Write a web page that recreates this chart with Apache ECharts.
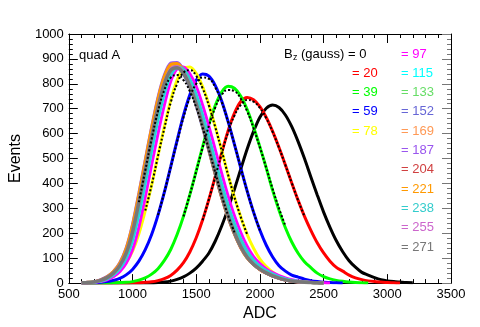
<!DOCTYPE html>
<html>
<head>
<meta charset="utf-8">
<script src="https://cdn.jsdelivr.net/npm/echarts@6/dist/echarts.min.js"></script>
<style>
  html, body { margin: 0; padding: 0; background: #fff; }
  #chart { width: 480px; height: 327px; }
</style>
</head>
<body>
<div id="chart"></div>
<script>
// bin centres (ADC), 600 .. 3200 in steps of 50
const adc = []
for (let x = 600; x <= 3200; x += 50) adc.push(x)

// B_z field values (gauss) and their colours
const bzLabels = ['0', '20', '39', '59', '78', '97', '115', '133', '152', '169', '187', '204', '221', '238', '255', '271']
const bzColors = ['#000000', '#ff0000', '#00ff00', '#0000ff', '#ffff00', '#ff00ff', '#00ffff', '#66dd66',
  '#6666d6', '#ff9955', '#9955ee', '#d04040', '#ff9900', '#33cccc', '#cc66cc', '#777777']

// events per bin (index 0 = 600 ADC)
const bz0 = [0, 0, 0, 0, 0, 0, 0, 0, 0, 0, 0, 0, 2, 4, 8, 15, 25, 40, 60, 88, 121, 169, 229, 299, 377, 458, 538, 609, 666, 702, 715, 705, 675, 628, 568, 500, 426, 354, 285, 224, 170, 126, 90, 64, 43, 32, 22, 14, 9, 6, 4, 2, 1]
const bz20 = [0, 0, 0, 0, 0, 0, 0, 0, 1, 1, 3, 5, 10, 18, 31, 52, 82, 125, 182, 253, 337, 429, 523, 611, 682, 729, 745, 736, 708, 665, 609, 544, 474, 402, 332, 268, 212, 162, 121, 88, 63, 48, 32, 21, 14, 9, 6, 4, 2, 1, 0]
const bz39 = [0, 0, 0, 0, 0, 1, 2, 3, 6, 12, 21, 36, 58, 91, 135, 195, 268, 355, 450, 547, 638, 714, 767, 790, 782, 750, 697, 627, 547, 462, 372, 292, 222, 165, 120, 86, 62, 40, 26, 17, 11, 7, 4, 2, 1, 0]
const bz59 = [0, 1, 1, 3, 6, 11, 19, 33, 55, 88, 134, 195, 273, 365, 468, 573, 673, 756, 814, 839, 831, 793, 731, 649, 557, 462, 369, 285, 212, 152, 105, 70, 48, 32, 24, 16, 10, 6, 3, 2, 1, 0]
const bz78 = [1, 2, 4, 8, 16, 30, 51, 82, 128, 198, 291, 393, 512, 627, 734, 815, 863, 868, 842, 789, 716, 627, 533, 435, 345, 265, 195, 140, 96, 66, 44, 28, 18, 11, 7, 4, 2, 1, 0]
const bz97 = [0, 1, 3, 6, 13, 26, 46, 80, 135, 225, 345, 475, 600, 715, 810, 860, 868, 840, 790, 715, 628, 535, 440, 350, 270, 203, 148, 106, 78, 57, 42, 30, 21, 14, 9, 5, 3, 2, 1, 0]
const bz115 = [1, 2, 4, 8, 17, 33, 58, 100, 170, 275, 400, 530, 655, 760, 835, 865, 858, 818, 757, 675, 585, 490, 397, 312, 238, 176, 127, 92, 67, 49, 36, 25, 17, 11, 7, 4, 2, 1, 0]
const bz133 = [1, 2, 5, 11, 22, 41, 71, 122, 208, 330, 460, 592, 712, 808, 866, 874, 850, 796, 722, 634, 540, 444, 351, 271, 203, 147, 105, 77, 56, 41, 29, 20, 13, 8, 5, 3, 2, 1, 0]
const bz152 = [1, 2, 5, 12, 23, 42, 73, 125, 213, 336, 467, 597, 715, 806, 856, 864, 839, 786, 713, 625, 530, 436, 344, 265, 198, 143, 102, 75, 55, 40, 28, 19, 12, 8, 5, 3, 2, 1, 0]
const bz169 = [1, 2, 5, 11, 22, 41, 71, 122, 209, 332, 464, 597, 719, 816, 872, 882, 859, 807, 733, 645, 549, 452, 357, 275, 206, 149, 106, 78, 57, 42, 30, 20, 13, 8, 5, 3, 2, 1, 0]
const bz187 = [1, 3, 6, 14, 26, 47, 82, 141, 236, 362, 495, 627, 746, 835, 883, 886, 857, 800, 722, 632, 535, 437, 344, 264, 197, 142, 101, 74, 55, 40, 28, 19, 12, 7, 5, 3, 2, 1, 0]
const bz204 = [1, 2, 5, 11, 22, 40, 70, 121, 206, 327, 458, 588, 708, 802, 858, 870, 846, 795, 722, 634, 540, 445, 352, 272, 203, 147, 105, 77, 56, 41, 29, 20, 13, 8, 5, 3, 2, 1, 0]
const bz221 = [1, 3, 6, 13, 25, 46, 80, 138, 232, 357, 490, 622, 740, 830, 878, 882, 853, 797, 720, 630, 533, 435, 343, 263, 196, 141, 100, 74, 54, 40, 28, 19, 12, 7, 5, 3, 2, 1, 0]
const bz238 = [1, 2, 4, 9, 18, 35, 61, 105, 178, 286, 412, 542, 665, 768, 840, 868, 858, 816, 753, 670, 580, 485, 392, 308, 235, 174, 126, 91, 66, 48, 35, 24, 16, 10, 6, 4, 2, 1, 0]
const bz255 = [1, 2, 5, 11, 22, 40, 71, 121, 207, 328, 459, 590, 710, 804, 860, 870, 846, 794, 721, 633, 539, 443, 350, 270, 202, 146, 104, 76, 56, 41, 29, 20, 13, 8, 5, 3, 2, 1, 0]
const bz271 = [1, 2, 5, 11, 22, 40, 70, 120, 205, 325, 455, 585, 705, 800, 855, 865, 842, 791, 719, 632, 538, 443, 350, 270, 202, 146, 104, 76, 56, 41, 29, 20, 13, 8, 5, 3, 2, 1, 0]
const bzValues = [bz0, bz20, bz39, bz59, bz78, bz97, bz115, bz133, bz152, bz169, bz187, bz204, bz221, bz238, bz255, bz271]

// gaussian fits (dotted), first bin and values every 50 ADC
const fit271Start = 1050
const fit271 = [325, 452, 578, 690, 775, 825, 835, 815, 770, 705, 625, 535, 443, 352, 272, 204]
const fit78Start = 1100
const fit78 = [291, 393, 510, 622, 725, 800, 845, 855, 832, 782, 712, 625, 532, 435, 345, 265, 195]
const fit59Start = 1200
const fit59 = [273, 365, 466, 568, 665, 745, 800, 825, 820, 785, 727, 647, 557, 462, 369, 285, 212]
const fit39Start = 1400
const fit39 = [268, 355, 448, 543, 632, 705, 755, 775, 770, 740, 690, 622, 545, 462, 378, 300, 230]
const fit20Start = 1550
const fit20 = [253, 337, 428, 520, 605, 672, 715, 735, 728, 703, 662, 607, 543, 474, 402, 332, 268]
const fits = [[fit271Start, fit271], [fit78Start, fit78], [fit59Start, fit59], [fit39Start, fit39], [fit20Start, fit20]]

const chart = echarts.init(document.getElementById('chart'))

const series = []
bzValues.forEach((vals, k) => {
  const data = []
  vals.forEach((v, i) => { data.push([adc[i], v]) })
  series.push({
    name: 'Bz ' + bzLabels[k],
    type: 'line',
    data: data,
    showSymbol: false,
    smooth: 0.3,
    lineStyle: { color: bzColors[k], width: k === 15 ? 3.5 : 3 },
    silent: true,
    z: 2 + k
  })
})
fits.forEach(([start, vals]) => {
  series.push({
    type: 'line',
    data: vals.map((v, i) => [start + 50 * i, v]),
    showSymbol: false,
    smooth: true,
    lineStyle: { color: '#000', width: 2, type: [2, 2] },
    silent: true,
    z: 30
  })
})

const font = 'Liberation Sans, Arial, sans-serif'
const graphics = [
  { type: 'text', x: 79, y: 55, style: { text: 'quad A', fill: '#000', font: '13px ' + font, textVerticalAlign: 'middle' } },
  { type: 'text', x: 284, y: 54, style: { text: 'B', fill: '#000', font: '13px ' + font, textVerticalAlign: 'middle' } },
  { type: 'text', x: 293, y: 58, style: { text: 'z', fill: '#000', font: '9px ' + font, textVerticalAlign: 'middle' } },
  { type: 'text', x: 301, y: 54, style: { text: '(gauss) = 0', fill: '#000', font: '13px ' + font, textVerticalAlign: 'middle' } }
]
for (let k = 1; k < bzLabels.length; k++) {
  const col2 = k >= 5
  const row = col2 ? k - 5 : k
  graphics.push({
    type: 'text',
    x: col2 ? 401 : 352,
    y: 54 + 19.3 * row,
    style: { text: '= ' + bzLabels[k], fill: bzColors[k], font: '13px ' + font, textVerticalAlign: 'middle' }
  })
}

function frameAxis (extra, tickColor) {
  return Object.assign({
    type: 'value',
    axisLine: { show: true, onZero: false, lineStyle: { color: '#000', width: 1 } },
    axisTick: { show: true, inside: true, length: 9, lineStyle: { color: tickColor } },
    minorTick: { show: true, splitNumber: 5, length: 4, lineStyle: { color: tickColor } },
    splitLine: { show: false },
    minorSplitLine: { show: false }
  }, extra)
}

const labelStyle = { fontFamily: font, fontSize: 13, color: '#000', margin: 5, formatter: v => String(v) }

const option = {
  animation: false,
  backgroundColor: '#fff',
  grid: { left: 61, right: 29, top: 34, bottom: 33 },
  xAxis: [
    frameAxis({
      min: 500, max: 3500, interval: 500, position: 'bottom',
      name: 'ADC', nameLocation: 'middle', nameGap: 21,
      nameTextStyle: { fontFamily: font, fontSize: 16, color: '#000' },
      axisLabel: labelStyle
    }, '#000'),
    frameAxis({
      min: 500, max: 3500, interval: 500, position: 'top',
      axisLabel: { show: false }
    }, '#000')
  ],
  yAxis: [
    frameAxis({
      min: 0, max: 1000, interval: 100, position: 'left',
      name: 'Events', nameLocation: 'middle', nameGap: 30,
      nameTextStyle: { fontFamily: font, fontSize: 16, color: '#000' },
      axisLabel: labelStyle
    }, '#000'),
    frameAxis({
      min: 0, max: 1000, interval: 100, position: 'right',
      axisLabel: { show: false }
    }, '#777')
  ],
  graphic: graphics,
  series: series
}

chart.setOption(option)
</script>
</body>
</html>
